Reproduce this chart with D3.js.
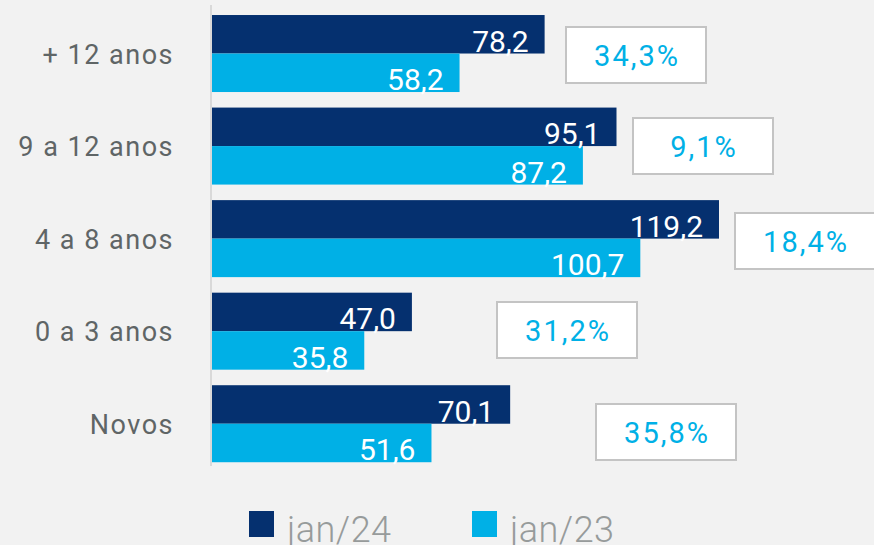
<!DOCTYPE html>
<html>
<head>
<meta charset="utf-8">
<script src="https://cdn.jsdelivr.net/npm/d3@7"></script>
<style>
  html, body { margin: 0; padding: 0; background: #f2f2f2; }
  svg { display: block; font-family: Roboto, "Open Sans", sans-serif; }
</style>
</head>
<body>
<div id="chart"></div>
<script>
// data
let categories = ["+ 12 anos", "9 a 12 anos", "4 a 8 anos", "0 a 3 anos", "Novos"];
let jan24 = [78.2, 95.1, 119.2, 47.0, 70.1];
let jan23 = [58.2, 87.2, 100.7, 35.8, 51.6];
let growth = ["34,3%", "9,1%", "18,4%", "31,2%", "35,8%"];
let seriesNames = ["jan/24", "jan/23"];

// layout of the % boxes (placed by hand in the original)
let boxLeft = [566, 633, 735, 497, 596];
let boxTop = [27, 118, 213, 302, 404];

let colors = ["#05306f", "#00b0e6"];

let width = 874, height = 545;
let svg = d3.select("#chart").append("svg")
    .attr("width", width)
    .attr("height", height);

svg.append("rect").attr("width", width).attr("height", height).attr("fill", "#f2f2f2");

let x = d3.scaleLinear()
    .domain([0, 119.2])
    .range([212, 719]);

let y = d3.scaleBand()
    .domain(categories)
    .range([7.25, 470])
    .paddingInner(0.168)
    .paddingOuter(0.084);

let y1 = d3.scaleBand()
    .domain([0, 1])
    .range([0, y.bandwidth()]);

let fmt = v => d3.format(".1f")(v).replace(".", ",");

// axis line
svg.append("line")
    .attr("x1", 211).attr("x2", 211)
    .attr("y1", 5).attr("y2", 466)
    .attr("stroke", "#d9d9d9")
    .attr("stroke-width", 2);

let rows = categories.map((c, i) => ({cat: c, vals: [jan24[i], jan23[i]], g: growth[i], i: i}));

let groups = svg.selectAll(".row")
    .data(rows)
    .enter().append("g")
    .attr("class", "row")
    .attr("transform", d => "translate(0," + y(d.cat) + ")");

groups.selectAll("rect.bar")
    .data(d => d.vals)
    .enter().append("rect")
    .attr("class", "bar")
    .attr("x", x(0))
    .attr("y", (d, j) => y1(j))
    .attr("width", d => x(d) - x(0))
    .attr("height", y1.bandwidth())
    .attr("fill", (d, j) => colors[j]);

groups.selectAll("text.val")
    .data(d => d.vals)
    .enter().append("text")
    .attr("class", "val")
    .attr("x", d => x(d) - 16)
    .attr("y", (d, j) => y1(j) + y1.bandwidth() - 2)
    .attr("text-anchor", "end")
    .attr("fill", "#fff")
    .style("font-size", "30px")
    .text(d => fmt(d));

// category labels
groups.append("text")
    .attr("x", 174)
    .attr("y", y.bandwidth() / 2 + 10)
    .attr("text-anchor", "end")
    .attr("fill", "#5f6566")
    .style("font-size", "27px")
    .style("letter-spacing", "1.5px")
    .text(d => d.cat);

// growth boxes
let boxes = svg.selectAll(".box")
    .data(rows)
    .enter().append("g")
    .attr("class", "box")
    .attr("transform", d => "translate(" + boxLeft[d.i] + "," + boxTop[d.i] + ")");

boxes.append("rect")
    .attr("width", 140)
    .attr("height", 56)
    .attr("fill", "#fff")
    .attr("stroke", "#c4c4c4")
    .attr("stroke-width", 2);

boxes.append("text")
    .attr("x", 71)
    .attr("y", 39)
    .attr("text-anchor", "middle")
    .attr("fill", "#00b0e6")
    .style("font-size", "29px")
    .style("letter-spacing", "2px")
    .text(d => d.g);

// legend
let legendX = [249, 472];
let legend = svg.selectAll(".legend")
    .data(seriesNames)
    .enter().append("g")
    .attr("class", "legend")
    .attr("transform", (d, i) => "translate(" + legendX[i] + ",511)");

legend.append("rect")
    .attr("width", 25)
    .attr("height", 26)
    .attr("fill", (d, i) => colors[i]);

legend.append("text")
    .attr("x", 38)
    .attr("y", 31)
    .attr("fill", "#979b9b")
    .style("font-size", "36px")
    .style("font-weight", 300)
    .style("letter-spacing", "0.5px")
    .text(d => d);
</script>
</body>
</html>
